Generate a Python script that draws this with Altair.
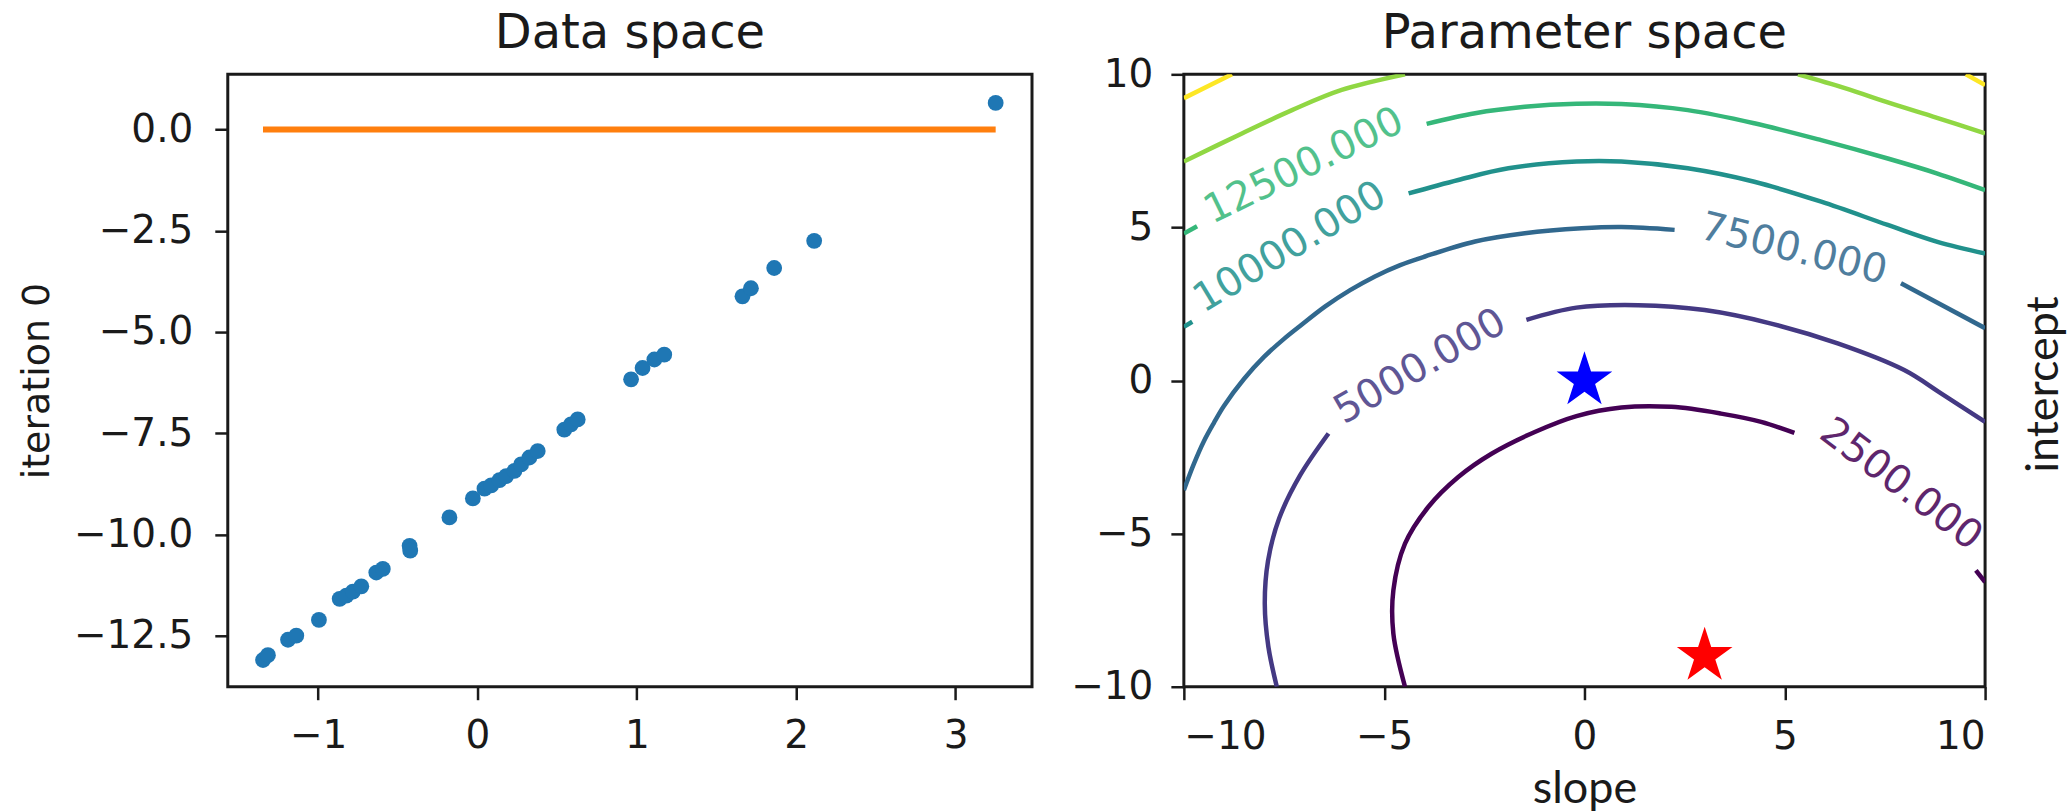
import altair as alt
import pandas as pd

# ---------------- Left panel: data space ----------------
data_x = [-1.346, -1.315, -1.189, -1.137, -0.995, -0.865, -0.823, -0.782, -0.729,
          -0.635, -0.594, -0.426, -0.422, -0.176, -0.029, 0.044, 0.086, 0.138,
          0.180, 0.232, 0.274, 0.326, 0.378, 0.545, 0.587, 0.629, 0.964, 1.036,
          1.110, 1.172, 1.663, 1.716, 1.862, 2.113, 3.252]
data_y = [-13.10, -12.98, -12.60, -12.50, -12.11, -11.59, -11.51, -11.41, -11.28,
          -10.94, -10.85, -10.28, -10.40, -9.58, -9.11, -8.87, -8.79, -8.66,
          -8.56, -8.43, -8.27, -8.10, -7.94, -7.41, -7.28, -7.16, -6.17, -5.89,
          -5.68, -5.56, -4.12, -3.92, -3.42, -2.75, 0.655]
fit_x = [-1.346, 3.252]
fit_y = [0.0, 0.0]
left_x_ticks = [-1, 0, 1, 2, 3]
left_y_ticks = [-12.5, -10.0, -7.5, -5.0, -2.5, 0.0]

# ---------------- Right panel: parameter space ----------------
levels = [2500, 5000, 7500, 10000, 12500, 15000, 17500]
level_colors = ["#440154", "#443983", "#31688e", "#21918c", "#35b779", "#90d743", "#fde725"]

c2500_a_s = [-4.48, -4.77, -4.77, -4.48, -3.90, -3.15, -2.32, -1.24, -0.20, 0.92, 2.17, 3.41, 4.41, 5.24]
c2500_a_i = [-10.0, -8.27, -6.85, -5.33, -4.13, -3.15, -2.39, -1.68, -1.16, -0.88, -0.86, -1.08, -1.35, -1.71]
c2500_b_s = [9.77, 10.0]
c2500_b_i = [-6.20, -6.58]

c5000_a_s = [-1.45, -0.20, 1.34, 3.00, 4.66, 6.32, 7.98, 8.90, 10.0]
c5000_a_i = [1.98, 2.38, 2.46, 2.30, 1.86, 1.21, 0.34, -0.42, -1.35]
c5000_b_s = [-6.39, -7.10, -7.62, -7.90, -7.98, -7.89, -7.68]
c5000_b_i = [-1.73, -3.10, -4.50, -5.90, -7.30, -8.70, -10.0]

c7500_a_s = [-10.0, -9.75, -9.5, -9.25, -9.0, -8.5, -8.0, -7.5, -7.1, -6.47, -5.85, -5.23,
             -4.6, -3.98, -2.73, -1.49, -0.07, 0.92, 2.25]
c7500_a_i = [-3.58, -2.72, -1.98, -1.38, -0.83, 0.05, 0.77, 1.36, 1.78, 2.42, 2.95, 3.40,
             3.77, 4.05, 4.54, 4.81, 4.97, 5.01, 4.92]
c7500_b_s = [7.90, 10.0]
c7500_b_i = [3.18, 1.71]

c10000_a_s = [-10.0, -9.79]
c10000_a_i = [1.75, 1.92]
c10000_b_s = [-4.39, -3.15, -1.90, -0.20, 0.92, 2.58, 4.24, 5.91, 7.57, 8.81, 10.0]
c10000_b_i = [6.11, 6.55, 6.93, 7.15, 7.15, 6.93, 6.49, 5.84, 5.08, 4.53, 4.15]

c12500_a_s = [-10.0, -9.67]
c12500_a_i = [4.80, 5.04]
c12500_b_s = [-3.94, -2.73, -1.49, -0.20, 0.92, 2.58, 4.24, 5.91, 7.57, 8.81, 10.0]
c12500_b_i = [8.38, 8.73, 8.94, 9.04, 9.03, 8.83, 8.40, 7.85, 7.25, 6.76, 6.22]

c15000_a_s = [-10.0, -8.55, -7.30, -6.06, -4.48]
c15000_a_i = [7.15, 8.07, 8.83, 9.49, 10.0]
c15000_b_s = [5.33, 6.50, 7.65, 8.80, 10.0]
c15000_b_i = [10.0, 9.55, 9.05, 8.58, 8.07]

c17500_a_s = [-10.0, -8.80]
c17500_a_i = [9.22, 10.0]
c17500_b_s = [9.52, 10.0]
c17500_b_i = [10.0, 9.65]

label_text = ["2500.000", "5000.000", "7500.000", "10000.000", "12500.000"]
label_level = [2500, 5000, 7500, 10000, 12500]
label_s = [7.90, -4.10, 5.22, -7.35, -7.00]
label_i = [-3.40, 0.45, 4.28, 4.35, 7.00]
label_angle = [37, 330, 14, 329, 334]

star_s = [0, 3]
star_i = [0, -9]
star_name = ["start", "truth"]
star_colors = ["#0000ff", "#ff0000"]

right_ticks = [-10, -5, 0, 5, 10]

# five-pointed star glyph in the unit square (-1..1)
STAR_PATH = ("M0,-1L0.2245,-0.309L0.9511,-0.309L0.3633,0.118L0.5878,0.809L0,0.382"
             "L-0.5878,0.809L-0.3633,0.118L-0.9511,-0.309L-0.2245,-0.309Z")

# ---------------- tables ----------------
pts_df = pd.DataFrame({"x": data_x, "y": data_y})
fit_df = pd.DataFrame({"x": fit_x, "y": fit_y})

pieces = [
    (2500, "2500a", c2500_a_s, c2500_a_i), (2500, "2500b", c2500_b_s, c2500_b_i),
    (5000, "5000a", c5000_a_s, c5000_a_i), (5000, "5000b", c5000_b_s, c5000_b_i),
    (7500, "7500a", c7500_a_s, c7500_a_i), (7500, "7500b", c7500_b_s, c7500_b_i),
    (10000, "10000a", c10000_a_s, c10000_a_i), (10000, "10000b", c10000_b_s, c10000_b_i),
    (12500, "12500a", c12500_a_s, c12500_a_i), (12500, "12500b", c12500_b_s, c12500_b_i),
    (15000, "15000a", c15000_a_s, c15000_a_i), (15000, "15000b", c15000_b_s, c15000_b_i),
    (17500, "17500a", c17500_a_s, c17500_a_i), (17500, "17500b", c17500_b_s, c17500_b_i),
]
rows = []
for lev, name, ss, ii in pieces:
    for k, (s, i) in enumerate(zip(ss, ii)):
        rows.append({"level": str(lev), "piece": name, "k": k, "slope": s, "intercept": i})
contour_df = pd.DataFrame(rows)
label_df = pd.DataFrame({"text": label_text, "level": [str(v) for v in label_level],
                         "slope": label_s, "intercept": label_i, "angle": label_angle})
star_df = pd.DataFrame({"slope": star_s, "intercept": star_i, "name": star_name})

TICK_FONT = "DejaVu Sans"
LAB = 39

# ---------------- left chart ----------------
lx = alt.X("x:Q", scale=alt.Scale(domain=[-1.567, 3.48], nice=False, zero=False),
           axis=alt.Axis(values=left_x_ticks, format="d", title=None, labelPadding=17))
ly = alt.Y("y:Q", scale=alt.Scale(domain=[-13.76, 1.362], nice=False, zero=False),
           axis=alt.Axis(values=left_y_ticks, format=".1f", title="iteration 0",
                         labelPadding=22, titlePadding=17))

pts = alt.Chart(pts_df).mark_circle(size=250, color="#1f77b4", opacity=1).encode(x=lx, y=ly)
fit = alt.Chart(fit_df).mark_line(color="#ff7f0e", strokeWidth=6).encode(x=lx, y=ly)
left = alt.layer(pts, fit).properties(
    width=805, height=613, title=alt.TitleParams("Data space", offset=16))

# ---------------- right chart ----------------
color_enc = alt.Color("level:N", scale=alt.Scale(domain=[str(v) for v in levels], range=level_colors),
                      legend=None)
rx = alt.X("slope:Q", scale=alt.Scale(domain=[-10, 10], nice=False, zero=False),
           axis=alt.Axis(values=right_ticks, format="d", title="slope", labelPadding=18,
                         titleFont="Lato", titleFontSize=45, titlePadding=10))
ry = alt.Y("intercept:Q", scale=alt.Scale(domain=[-10, 10], nice=False, zero=False),
           axis=alt.Axis(values=right_ticks, format="d", title="intercept", labelPadding=18,
                         titleFont="Lato", titleFontSize=45, titleAngle=270,
                         titleX=860, titleY=310, titleAlign="center", titleBaseline="middle"))

lines = alt.Chart(contour_df).mark_line(strokeWidth=4.5, interpolate="catmull-rom", clip=True).encode(
    x=rx, y=ry, color=color_enc, detail="piece:N", order="k:Q")
labels = alt.Chart(label_df).mark_text(font=TICK_FONT, fontSize=40, align="center",
                                       baseline="middle", opacity=0.85).encode(
    x=rx, y=ry, text="text:N", color=color_enc,
    angle=alt.Angle("angle:Q", scale=None))
stars = alt.Chart(star_df).mark_point(shape=STAR_PATH, filled=True, size=3430, opacity=1,
                                      strokeWidth=0).encode(
    x=rx, y=ry,
    fill=alt.Fill("name:N", scale=alt.Scale(domain=star_name, range=star_colors), legend=None))

right = alt.layer(lines, labels, stars).properties(
    width=802, height=613, title=alt.TitleParams("Parameter space", offset=-3))

chart = alt.hconcat(left, right, spacing=35).properties(
    padding={"left": 16, "top": 8, "right": 4, "bottom": 0},
    background="white",
).configure_axis(
    labelFont=TICK_FONT, labelFontSize=LAB, labelColor="#1a1a1a",
    tickColor="#1a1a1a", tickSize=13, tickWidth=2.5, domain=False, grid=False,
    titleFont=TICK_FONT, titleFontSize=38, titleFontWeight="normal", titleColor="#1a1a1a",
).configure_view(stroke="#1a1a1a", strokeWidth=3).configure_title(
    font=TICK_FONT, fontSize=48, fontWeight="normal", color="#1a1a1a", anchor="middle")

chart.save("out.html", embed_options={"renderer": "svg", "actions": False})
